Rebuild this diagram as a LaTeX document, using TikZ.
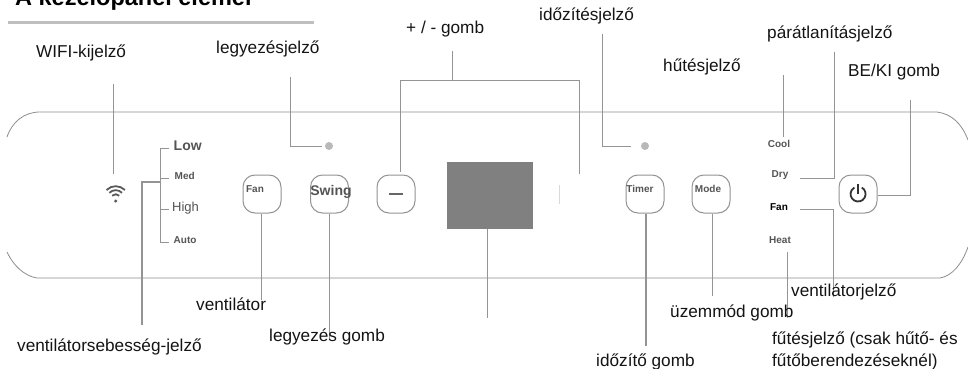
\documentclass[tikz,border=0pt]{standalone}
\usepackage{fontspec}
\setmainfont{Liberation Sans}
\definecolor{lead}{gray}{0.58}
\definecolor{panelc}{gray}{0.55}
\definecolor{txt}{gray}{0.08}
\definecolor{ptxt}{gray}{0.33}
\tikzset{
  lbl/.style={anchor=base west,inner sep=0pt,text=txt,font=\fontsize{17.2}{19}\selectfont},
  leader/.style={draw=lead,line width=1pt},
  panelline/.style={draw=panelc,line width=0.8pt},
  btn/.style={draw=gray!85,line width=1pt,rounded corners=12pt,fill=white,minimum width=38pt,minimum height=38pt,inner sep=0pt},
  btxt/.style={inner sep=0pt,text=ptxt,font=\bfseries\fontsize{10}{11}\selectfont},
  ind/.style={circle,fill=gray!55,minimum size=8pt,inner sep=0pt},
  spd/.style={anchor=base west,inner sep=0pt,text=ptxt,font=\bfseries\fontsize{10}{11}\selectfont},
  mode/.style={anchor=base,inner sep=0pt,text=ptxt,font=\bfseries\fontsize{10}{11}\selectfont}
}
\begin{document}
\begin{tikzpicture}[x=1pt,y=-1pt]
\useasboundingbox (0,0) rectangle (968,369);
\begin{scope}
\clip (0,0) rectangle (968,369);
% panel outline
\draw[panelline] (7,137) .. controls (12,122) and (24,112) .. (40,112) -- (937,112) .. controls (952,114) and (962,124) .. (968,140);
\draw[panelline] (7,252) .. controls (13,265) and (24,276) .. (37,278) -- (940,278) .. controls (952,276) and (962,264) .. (968,247);
% title
\node[lbl,font=\bfseries\fontsize{23.5}{25}\selectfont,text=black] (title) at (15,6) {A kezelőpanel elemei};
\draw[draw=gray!50,line width=2.5pt] (8,22.5) -- (314,22.5);
% labels
\node[lbl] (lwifi) at (36,58) {WIFI-kijelző};
\node[lbl] (lswing) at (216,54) {legyezésjelző};
\node[lbl] (lpm) at (406,34) {+ / - gomb};
\node[lbl] (ltimer) at (539,21) {időzítésjelző};
\node[lbl] (lcool) at (663,71) {hűtésjelző};
\node[lbl] (ldry) at (767,39) {párátlanításjelző};
\node[lbl] (lpow) at (848,77) {BE/KI gomb};
% buttons
\node[btn] (bfan) at (262,194) {};
\node[btn] (bswing) at (329.5,194) {};
\node[btn] (bminus) at (396,194) {};
\node[btn] (btimer) at (645,194) {};
\node[btn] (bmode) at (711,194) {};
\node[btn] (bpow) at (858,194) {};
\node[btxt] (tfan) at (255,189) {Fan};
\node[btxt,font=\bfseries\fontsize{14}{16}\selectfont] (tswing) at (331,192) {Swing};
\node[btxt] (ttimer) at (640,189) {Timer};
\node[btxt] (tmode) at (708,189) {Mode};
\draw[draw=gray!80!black,line width=2pt] (389,194) -- (403,194);
% power glyph
\draw[black!80,line width=1.8pt] (861.8,187.5) arc[start angle=-60,end angle=240,radius=7.5];
\draw[black!80,line width=1.8pt] (858,184) -- (858,194);
% display
\node[fill=black!50,minimum width=86pt,minimum height=67pt,inner sep=0pt] (disp) at (490,195.5) {};
\fill[gray!30] (558.6,185) rectangle (559.4,204);
% indicators
\node[ind] (dswing) at (329,146) {};
\node[ind] (dtimer) at (645,146) {};
% wifi
\draw[black!65,line width=1.8pt] (106.5,190) arc[start angle=225,end angle=315,radius=13];
\draw[black!65,line width=1.8pt] (109.3,192.8) arc[start angle=225,end angle=315,radius=9];
\draw[black!65,line width=1.8pt] (112.2,195.7) arc[start angle=225,end angle=315,radius=5];
\fill[black!65] (115.7,201) circle (1.7);
% speeds
\node[spd,font=\bfseries\fontsize{14}{16}\selectfont] (low) at (173.5,150) {Low};
\node[spd] (med) at (174.5,179) {Med};
\node[spd,font=\fontsize{13}{15}\selectfont] (high) at (172,211.5) {High};
\node[spd] (auto) at (173.5,243) {Auto};
% modes
\node[mode] (cool) at (779,147) {Cool};
\node[mode] (dry) at (780,177) {Dry};
\node[mode,text=black] (fan) at (779,210) {Fan};
\node[mode] (heat) at (780,243) {Heat};
% coordinates
\coordinate (wA) at (113,84); \coordinate (wB) at (113,174);
\coordinate (sA) at (290,77); \coordinate (sB) at (290,146); \coordinate (sC) at (322,146);
\coordinate (pmT) at (452,51); \coordinate (pmM) at (452,80);
\coordinate (pmL) at (400,80); \coordinate (pmR) at (579,80); \coordinate (pmRe) at (579,174);
\coordinate (pmLe) at (400,172);
\coordinate (tA) at (602,34); \coordinate (tB) at (602,146); \coordinate (tC) at (631,146);
\coordinate (cA) at (783,75); \coordinate (cB) at (783,137);
\coordinate (dA) at (834,52); \coordinate (dB) at (834,178); \coordinate (dC) at (800,178);
\coordinate (pA) at (910,100); \coordinate (pB) at (910,195);
\coordinate (fL) at (800,209); \coordinate (fR) at (833,209); \coordinate (fE) at (833,297);
\coordinate (hA) at (787,252); \coordinate (hB) at (787,318);
\coordinate (tree1) at (160,148); \coordinate (tree2) at (160,178); \coordinate (tree3) at (160,209); \coordinate (tree4) at (160,242);
\coordinate (b1) at (169,148); \coordinate (b2) at (169,178); \coordinate (b3) at (169,209); \coordinate (b4) at (169,242);
\coordinate (vA) at (142,182); \coordinate (vB) at (142,325); \coordinate (vC) at (160,182);
\coordinate (fanE) at (261,300); \coordinate (swE) at (329.5,340);
\coordinate (dispE) at (487,318); \coordinate (timE) at (646,346); \coordinate (modE) at (712,296);
% connectors
\draw[leader] (wA) -- (wB);
\draw[leader] (sA) -- (sB) -- (sC);
\draw[leader] (pmT) -- (pmM);
\draw[leader] (pmLe) -- (pmL) -- (pmR) -- (pmRe);
\draw[leader] (tA) -- (tB) -- (tC);
\draw[leader] (cA) -- (cB);
\draw[leader] (dA) -- (dB) -- (dC);
\draw[leader] (pA) -- (pB) -- (bpow.east |- pB);
\draw[leader] (fL) -- (fR) -- (fE);
\draw[leader] (hA) -- (hB);
\draw[leader] (tree1) -- (tree4);
\draw[leader] (tree1) -- (b1);
\draw[leader] (tree2) -- (b2);
\draw[leader] (tree3) -- (b3);
\draw[leader] (tree4) -- (b4);
\draw[leader,line width=1.4pt] (vB) -- (vA) -- (vC);
\draw[leader] (bfan.south -| fanE) -- (fanE);
\draw[leader] (bswing.south) -- (swE);
\draw[leader] (disp.south -| dispE) -- (dispE);
\draw[leader,line width=1.4pt] (btimer.south -| timE) -- (timE);
\draw[leader] (bmode.south -| modE) -- (modE);
% lower labels
\node[lbl] (lvfan) at (196,310) {ventilátor};
\node[lbl] (lbsw) at (269,341) {legyezés gomb};
\node[lbl] (lvs) at (17,351) {ventilátorsebesség-jelző};
\node[lbl] (lft) at (596,366) {időzítő gomb};
\node[lbl] (lmd) at (670,317) {üzemmód gomb};
\node[lbl] (lvj) at (791,296) {ventilátorjelző};
\node[lbl] (lh1) at (772,344) {fűtésjelző (csak hűtő- és};
\node[lbl] (lh2) at (772,366) {fűtőberendezéseknél)};
\end{scope}
\end{tikzpicture}
\end{document}
